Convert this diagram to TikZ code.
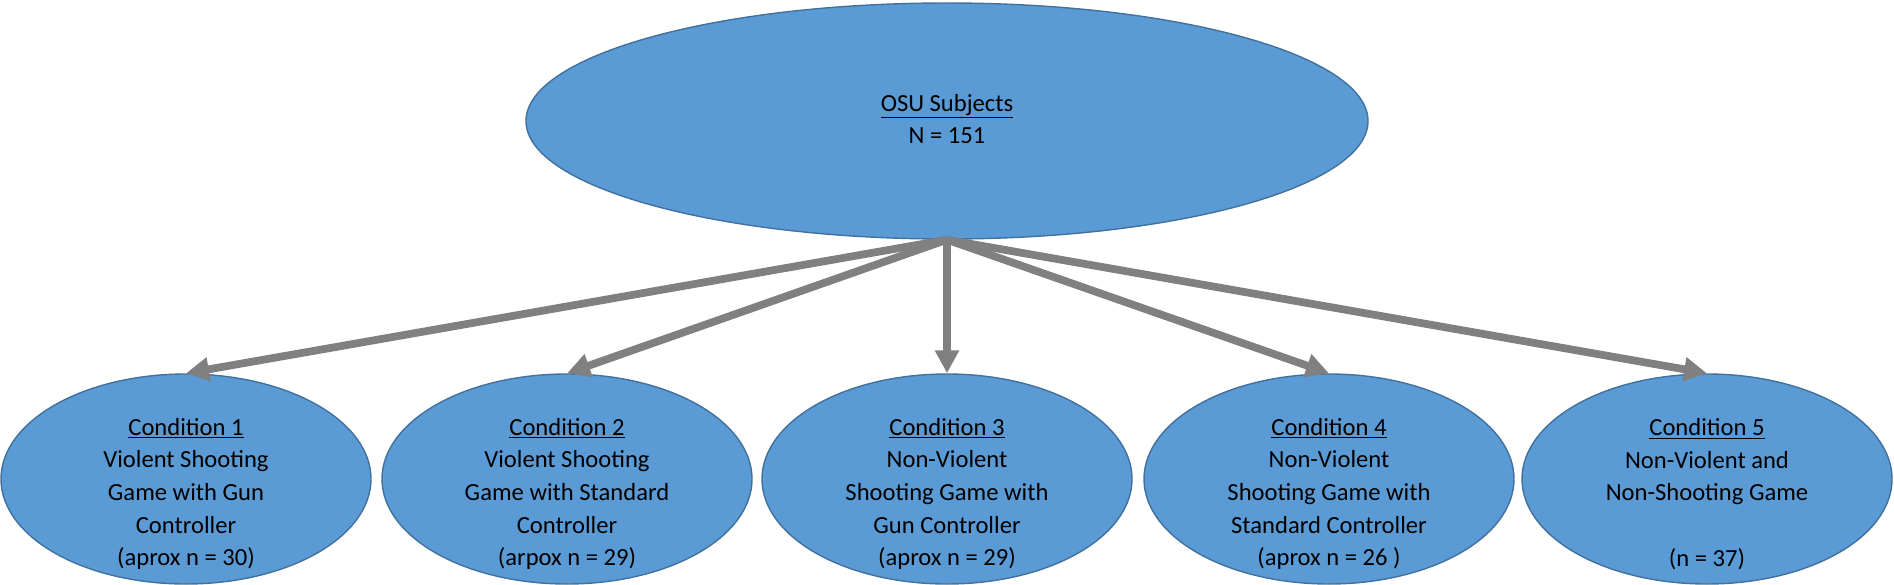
\documentclass[tikz,border=0pt]{standalone}
\usepackage{fontspec}
\setmainfont{Carlito}
\usepackage{tikz}
\usetikzlibrary{shapes.geometric,arrows.meta}
\definecolor{ovalblue}{HTML}{5B9BD5}
\definecolor{ovalline}{HTML}{41719C}
\definecolor{arrowgray}{HTML}{808080}
\tikzset{
  oval/.style={ellipse, fill=ovalblue, draw=ovalline, line width=0.8pt, inner sep=0pt},
  cond/.style={oval, minimum width=7.4cm, minimum height=4.2cm},
  ovaltext/.style={align=center, inner sep=0pt, font=\fontsize{14}{18.6}\selectfont},
  feed/.style={arrowgray, line width=4.4pt, -{Triangle[length=0.46cm, width=0.46cm]}}
}

\begin{document}
\begin{tikzpicture}
\useasboundingbox (0,0) rectangle (37.88,11.68);
\node[oval, minimum width=16.84cm, minimum height=4.72cm] (osu) at (18.94,9.26) {};
\node[ovaltext] (osutext) at (18.94,9.3) {\underline{OSU Subjects}\\N = 151};
\node[cond] (c1) at (3.72,2.1) {};
\node[cond] (c2) at (11.34,2.1) {};
\node[cond] (c3) at (18.94,2.1) {};
\node[cond] (c4) at (26.58,2.1) {};
\node[cond] (c5) at (34.14,2.1) {};
\node[ovaltext] (t1) at ([yshift=-0.3cm]c1.center) {\underline{Condition 1}\\Violent Shooting\\Game with Gun\\Controller\\(aprox n = 30)};
\node[ovaltext] (t2) at ([yshift=-0.3cm]c2.center) {\underline{Condition 2}\\Violent Shooting\\Game with Standard\\Controller\\(arpox n = 29)};
\node[ovaltext] (t3) at ([yshift=-0.3cm]c3.center) {\underline{Condition 3}\\Non-Violent\\Shooting Game with\\Gun Controller\\(aprox n = 29)};
\node[ovaltext] (t4) at ([yshift=-0.3cm]c4.center) {\underline{Condition 4}\\Non-Violent\\Shooting Game with\\Standard Controller\\(aprox n = 26 )};
\node[ovaltext] (t5) at ([yshift=-0.3cm]c5.center) {\underline{Condition 5}\\Non-Violent and\\Non-Shooting Game\\\mbox{}\\(n = 37)};
\foreach \c in {c1,c2,c3,c4,c5}
  \draw[feed] (osu.south) -- (\c.north);
\end{tikzpicture}
\end{document}
